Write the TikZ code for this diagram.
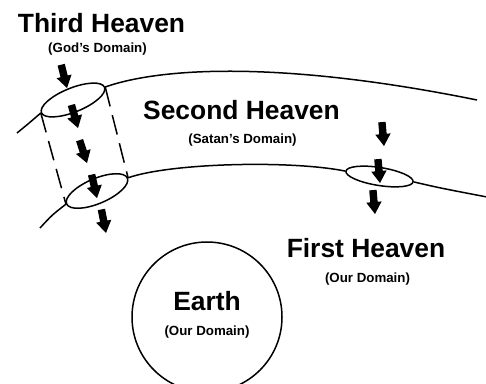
\documentclass[tikz,border=0pt]{standalone}
\usepackage{fontspec}
\setmainfont{Liberation Sans}
\usetikzlibrary{shapes.geometric}
\tikzset{
  big/.style={font=\fontsize{26.4}{30}\selectfont\bfseries,anchor=base,inner sep=0pt},
  small/.style={font=\fontsize{13.3}{15}\selectfont\bfseries,anchor=base,inner sep=0pt},
  ring/.style={draw,ellipse,inner sep=0pt},
  blockarrow/.pic={\fill (-3.7,-24) -- (3.7,-24) -- (3.7,-12) -- (7.7,-12) -- (0,0) -- (-7.7,-12) -- (-3.7,-12) -- cycle;}
}
\begin{document}
\begin{tikzpicture}[x=1pt,y=-1pt,line width=1.5pt]
  \useasboundingbox (0,0) rectangle (486,383);
  % heavens
  \node[ring,minimum width=68pt,minimum height=24pt,rotate=22] (top) at (73,100) {};
  \node[ring,minimum width=66pt,minimum height=25pt,rotate=23] (bot) at (97,191) {};
  \node[ring,minimum width=68pt,minimum height=18pt,rotate=-9] (gate) at (379.5,176.5) {};
  \coordinate (tl) at (17,133);
  \coordinate (tr) at (477,100);
  \coordinate (bl) at (40,228);
  \coordinate (br) at (487,197);
  \draw (tl) .. controls (28,124) .. (top.west);
  \draw (top.east) .. controls (165,66) and (290,62) .. (tr);
  \draw (bl) .. controls (52,215) .. (bot.west);
  \draw (bot.east) .. controls (170,163) and (290,160) .. (gate.west);
  \draw (gate.east) .. controls (440,188) .. (br);
  \draw[dash pattern=on 20pt off 9pt] (top.west) -- (bot.west);
  \draw[dash pattern=on 20pt off 9pt] (top.east) -- (bot.east);
  \node[draw,circle,minimum size=150pt] (earth) at (207,317) {};
  % arrows
  \foreach \tip/\ang in {{(67,88)}/14,{(78,128)}/16,{(87,163)}/18,{(97,198)}/13,{(106,233)}/11,
                         {(384,146)}/5,{(380,183)}/5,{(375,214)}/5}
    \pic[rotate=\ang] at \tip {blockarrow};
  % labels
  \node[big] (third) at (101.5,32) {Third Heaven};
  \node[small] (thirdsub) at (97.5,52) {(God’s Domain)};
  \node[big] (second) at (241.5,119) {Second Heaven};
  \node[small] (secondsub) at (242.5,143) {(Satan’s Domain)};
  \node[big] (first) at (366,257) {First Heaven};
  \node[small] (firstsub) at (367.5,282) {(Our Domain)};
  \node[big] (earthname) at (207,310) {Earth};
  \node[small] (earthsub) at (207,335) {(Our Domain)};
\end{tikzpicture}
\end{document}
